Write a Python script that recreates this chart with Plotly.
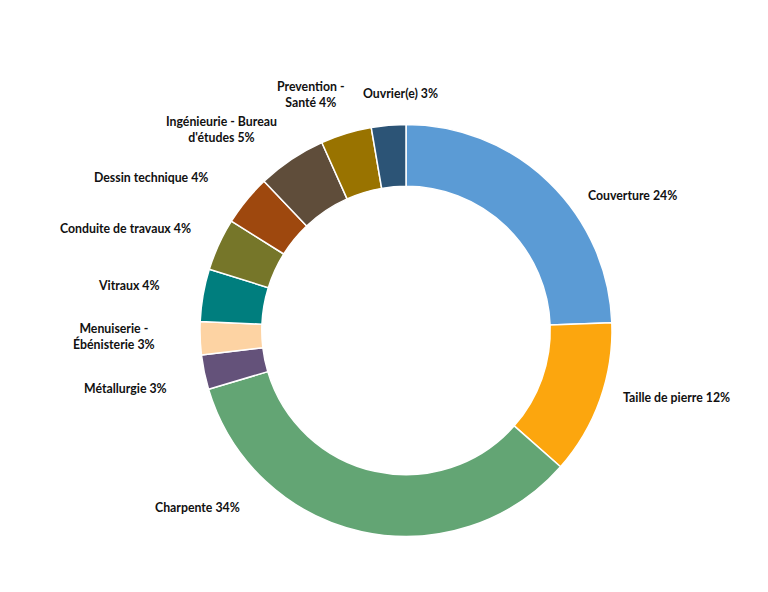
import plotly.graph_objects as go

# Métiers - share of respondents
labels = [
    "Couverture",
    "Taille de pierre",
    "Charpente",
    "Métallurgie",
    "Menuiserie -<br>Ébénisterie",
    "Vitraux",
    "Conduite de travaux",
    "Dessin technique",
    "Ingénieurie - Bureau<br>d'études",
    "Prevention -<br>Santé",
    "Ouvrier(e)",
]
values = [24.4, 12.1, 33.9, 2.7, 2.6, 4.1, 4.1, 4.0, 5.4, 4.0, 2.7]
colors = [
    "#5B9BD5", "#FCA60E", "#63A574", "#64527A", "#FDD3A3", "#007E7E",
    "#767629", "#9E480E", "#5F4D3A", "#997300", "#2C5476",
]

W, H = 768, 592
cx, cy, r = 398, 322.5, 206   # donut centre / radius in figure pixels

# hand-placed data label centres (figure pixels), as in the original chart
label_pos = [
    (624, 187), (668, 389), (189, 499), (117, 381), (106, 328), (121, 278),
    (117, 221), (143, 169), (213, 121), (303, 87), (392, 85),
]

fig = go.Figure(go.Pie(
    labels=labels,
    values=values,
    hole=0.70,
    sort=False,
    direction="clockwise",
    rotation=0,
    domain=dict(x=[(cx - r) / W, (cx + r) / W],
                y=[(H - cy - r) / H, (H - cy + r) / H]),
    marker=dict(colors=colors, line=dict(color="white", width=1.5)),
    textinfo="none",
    showlegend=False,
))

total = sum(values)
for lab, v, (px, py) in zip(labels, values, label_pos):
    fig.add_annotation(
        x=px / W, y=1 - py / H, xref="paper", yref="paper",
        text=f"{lab} {round(v / total * 100)}%",
        showarrow=False, align="center",
        xanchor="center", yanchor="middle",
        font=dict(family="Lato", size=12.3, color="#111111", weight="bold"),
    )

fig.update_layout(
    width=W,
    height=H,
    margin=dict(l=0, r=0, t=0, b=0),
    paper_bgcolor="white",
    font=dict(family="Lato"),
)

fig.write_html("out.html")
